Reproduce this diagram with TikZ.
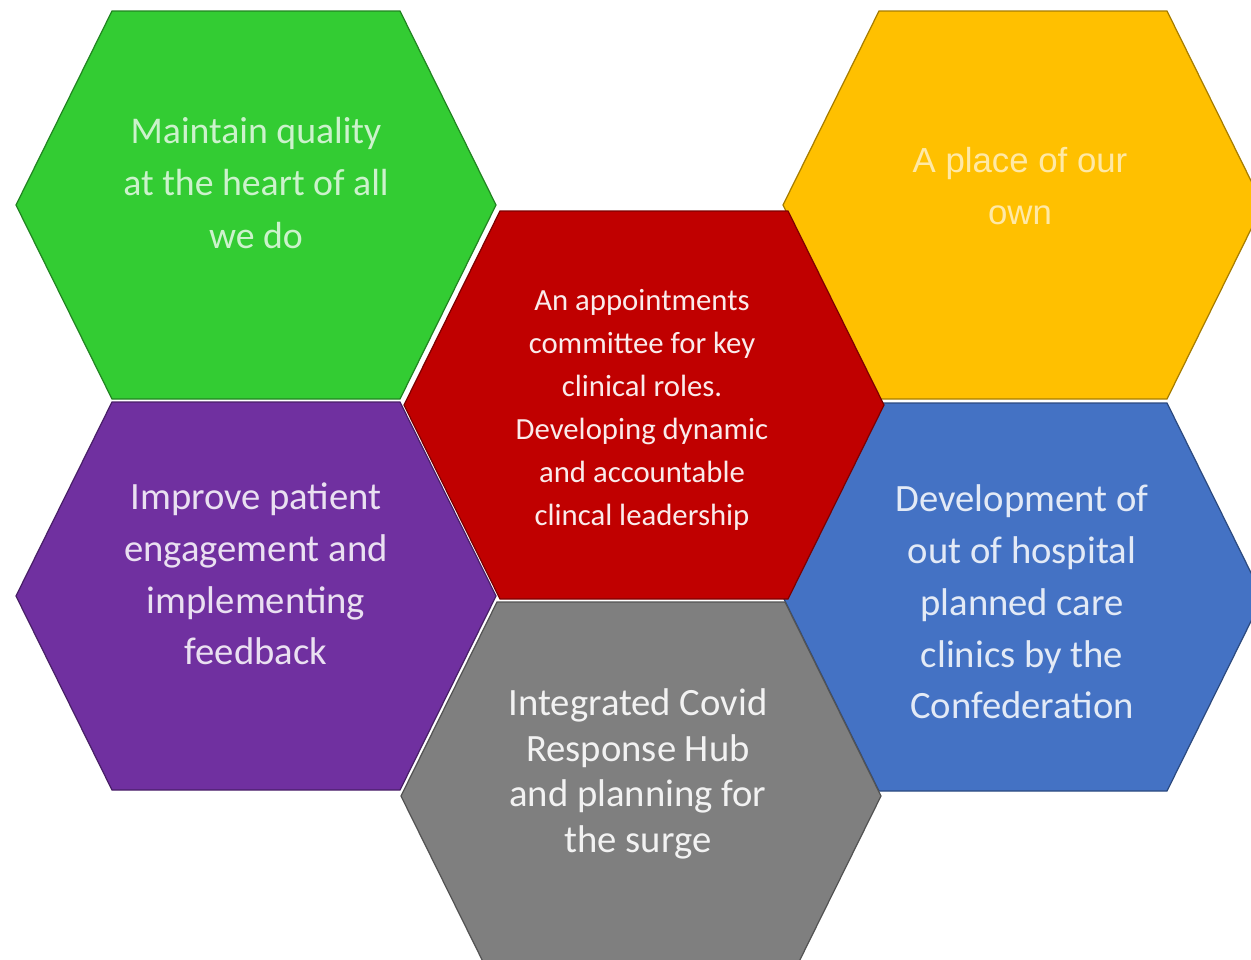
\documentclass[tikz,border=0pt]{standalone}
\usepackage{fontspec}
\setmainfont{Carlito}
\newfontfamily\arialfont{Liberation Sans}

\definecolor{hexgreen}{HTML}{33CC33}
\definecolor{hexred}{HTML}{C00000}
\definecolor{hexyellow}{HTML}{FFC000}
\definecolor{hexpurple}{HTML}{7030A0}
\definecolor{hexblue}{HTML}{4472C4}
\definecolor{hexgray}{HTML}{7F7F7F}

\tikzset{
  hexcell/.pic={
    \path[pic actions] (-240,0) -- (-144,-194) -- (144,-194) -- (240,0)
      -- (144,194) -- (-144,194) -- cycle;
  },
  hexline/.style={line width=0.7pt, draw=#1!65!black, fill=#1},
  hextext/.style={align=center, inner sep=0pt},
  bigtext/.style={hextext, font=\fontsize{22}{29.5}\selectfont},
}

\begin{document}
\begin{tikzpicture}[x=0.02cm, y=-0.02cm]
  \useasboundingbox (0,0) rectangle (1251,960);
  \clip (0,0) rectangle (1251,960);
  % hexagons
  \pic[hexline=hexgreen]  at (256,205)  {hexcell};
  \pic[hexline=hexyellow] at (1023,205) {hexcell};
  \pic[hexline=hexpurple] at (256,596)  {hexcell};
  \pic[hexline=hexblue]   at (1023,597) {hexcell};
  \pic[hexline=hexgray]   at (641,796)  {hexcell};
  \pic[hexline=hexred]    at (644,405)  {hexcell};
  % labels
  \node[bigtext, text=hexgreen!25!white, font=\fontsize{21.5}{30}\selectfont]
    (quality) at (256,183) {Maintain quality\\at the heart of all\\we do};
  \node[hextext, text=hexyellow!35!white, font=\arialfont\fontsize{19.8}{29.5}\selectfont]
    (place) at (1020,186) {A place of our\\own};
  \node[hextext, text=hexred!8!white, font=\fontsize{17.5}{24.5}\selectfont]
    (appoint) at (642,410) {An appointments\\committee for key\\clinical roles.\\Developing dynamic\\and accountable\\clincal leadership};
  \node[bigtext, text=hexpurple!15!white]
    (patient) at (256,574) {Improve patient\\engagement and\\implementing\\feedback};
  \node[bigtext, text=hexblue!15!white]
    (clinics) at (1022,602) {Development of\\out of hospital\\planned care\\clinics by the\\Confederation};
  \node[bigtext, text=hexgray!10!white, font=\fontsize{22}{26}\selectfont]
    (covid) at (638,774) {Integrated Covid\\Response Hub\\and planning for\\the surge};
\end{tikzpicture}
\end{document}
